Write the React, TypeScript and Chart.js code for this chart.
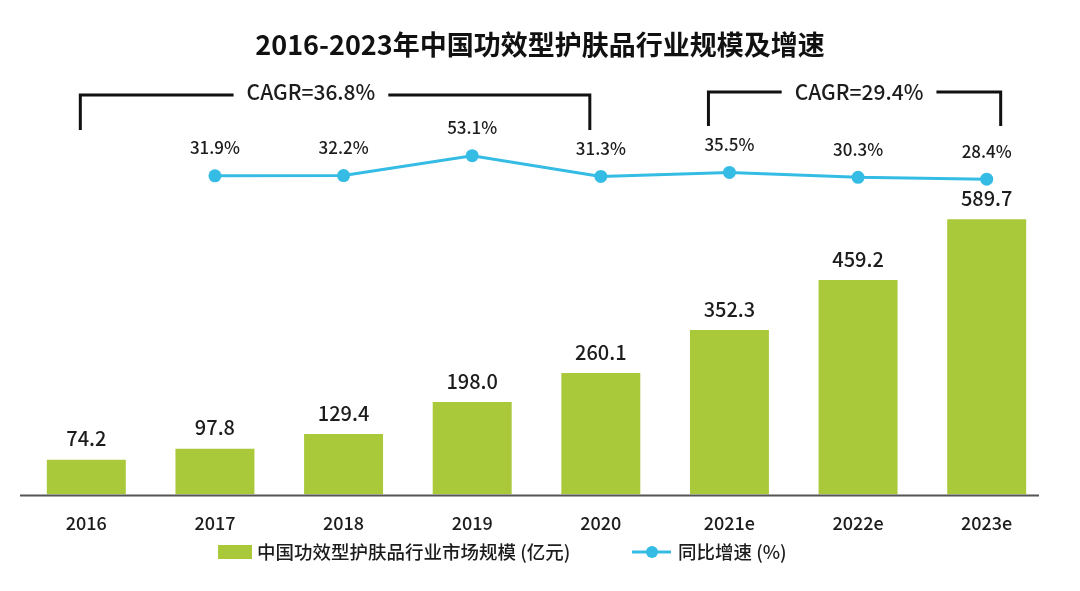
import React, { useEffect, useRef } from "react";
import { Chart, registerables } from "chart.js";

Chart.register(...registerables);

const categories = ["2016", "2017", "2018", "2019", "2020", "2021e", "2022e", "2023e"];
const marketSize = [74.2, 97.8, 129.4, 198.0, 260.1, 352.3, 459.2, 589.7];
const growthRate = [null, 31.9, 32.2, 53.1, 31.3, 35.5, 30.3, 28.4];
const titleText = "2016-2023年中国功效型护肤品行业规模及增速";
const barLabel = "中国功效型护肤品行业市场规模 (亿元)";
const lineLabel = "同比增速 (%)";
const cagrSpans = [
  { from: 0, to: 4, text: "CAGR=36.8%" },
  { from: 5, to: 7, text: "CAGR=29.4%" },
];

const FONT = '"Noto Sans CJK SC", "Noto Sans", sans-serif';
const GREEN = "#a9c93a";
const BLUE = "#35bce4";
const TEXT = "#1c1c1c";

const decorPlugin = {
  id: "decor",
  afterDatasetsDraw(chart: any) {
    const ctx = chart.ctx;
    const area = chart.chartArea;
    ctx.save();
    // axis line
    ctx.strokeStyle = "#555";
    ctx.lineWidth = 2;
    ctx.beginPath();
    ctx.moveTo(area.left - 2, area.bottom + 1);
    ctx.lineTo(area.right - 12, area.bottom + 1);
    ctx.stroke();

    // bar value labels
    ctx.fillStyle = TEXT;
    ctx.textAlign = "center";
    ctx.textBaseline = "middle";
    ctx.font = `500 20px ${FONT}`;
    const barMeta = chart.getDatasetMeta(0);
    barMeta.data.forEach((el: any, i: number) => {
      ctx.fillText(marketSize[i].toFixed(1), el.x, el.y - 21);
    });
    // line value labels
    ctx.font = `500 17px ${FONT}`;
    const lineMeta = chart.getDatasetMeta(1);
    lineMeta.data.forEach((el: any, i: number) => {
      const v = growthRate[i];
      if (v == null) return;
      ctx.fillText(v.toFixed(1) + "%", el.x, el.y - 28);
    });
    ctx.restore();
  },
  afterDraw(chart: any) {
    const ctx = chart.ctx;
    const x = chart.scales.x;
    const W = chart.width;
    ctx.save();
    // title
    ctx.fillStyle = "#111";
    ctx.textAlign = "center";
    ctx.textBaseline = "middle";
    ctx.font = `bold 27px ${FONT}`;
    ctx.fillText(titleText, W / 2, 45);

    // CAGR brackets
    const geo = [
      { l: x.getPixelForValue(0) - 6, r: x.getPixelForValue(4) - 11, top: 95, bot: 130, tc: x.getPixelForValue(1) + 96 },
      { l: x.getPixelForValue(5) - 21, r: x.getPixelForValue(7) + 14, top: 92, bot: 126, tc: x.getPixelForValue(6) + 1 },
    ];
    ctx.font = `500 21px ${FONT}`;
    ctx.strokeStyle = "#111";
    ctx.lineWidth = 3;
    cagrSpans.forEach((s, k) => {
      const g = geo[k];
      const tw = ctx.measureText(s.text).width;
      const gl = g.tc - tw / 2 - 13;
      const gr = g.tc + tw / 2 + 13;
      ctx.beginPath();
      ctx.moveTo(g.l, g.bot);
      ctx.lineTo(g.l, g.top);
      ctx.lineTo(gl, g.top);
      ctx.moveTo(gr, g.top);
      ctx.lineTo(g.r, g.top);
      ctx.lineTo(g.r, g.bot);
      ctx.stroke();
      ctx.fillStyle = TEXT;
      ctx.fillText(s.text, g.tc, 92);
    });

    // legend
    const ly = 552;
    ctx.font = `500 18.5px ${FONT}`;
    ctx.textAlign = "left";
    ctx.fillStyle = GREEN;
    ctx.fillRect(218, ly - 7, 34, 14);
    ctx.fillStyle = TEXT;
    ctx.fillText(barLabel, 257, ly);
    ctx.strokeStyle = BLUE;
    ctx.lineWidth = 3;
    ctx.beginPath();
    ctx.moveTo(632, ly);
    ctx.lineTo(671, ly);
    ctx.stroke();
    ctx.fillStyle = BLUE;
    ctx.beginPath();
    ctx.arc(652, ly, 6, 0, Math.PI * 2);
    ctx.fill();
    ctx.fillStyle = TEXT;
    ctx.fillText(lineLabel, 678, ly);
    ctx.restore();
  },
};

export default function App() {
  const ref = useRef<HTMLCanvasElement | null>(null);
  useEffect(() => {
    if (!ref.current) return;
    const chart = new Chart(ref.current, {
      type: "bar",
      data: {
        labels: categories,
        datasets: [
          {
            type: "bar",
            label: barLabel,
            data: marketSize,
            backgroundColor: GREEN,
            yAxisID: "y",
            categoryPercentage: 1,
            barPercentage: 0.614,
            order: 2,
          },
          {
            type: "line",
            label: lineLabel,
            data: growthRate as any,
            borderColor: BLUE,
            backgroundColor: BLUE,
            borderWidth: 3,
            pointRadius: 6.5,
            pointBackgroundColor: BLUE,
            pointBorderWidth: 0,
            yAxisID: "y1",
            spanGaps: false,
            order: 1,
            clip: false as any,
          },
        ],
      },
      options: {
        responsive: false,
        animation: false,
        layout: { padding: { top: 100, bottom: 47, left: 22, right: 29 } },
        plugins: {
          legend: { display: false },
          tooltip: { enabled: false },
          title: { display: false },
        },
        scales: {
          x: {
            grid: { display: false },
            border: { display: false },
            ticks: { color: TEXT, font: { family: FONT, size: 18, weight: 500 as any }, padding: 10 },
          },
          y: {
            display: false,
            min: 0,
            max: 845,
          },
          y1: {
            display: false,
            min: -303,
            max: 111.6,
          },
        },
      },
      plugins: [decorPlugin],
    });
    return () => chart.destroy();
  }, []);
  return (
    <div style={{ position: "fixed", left: 0, top: 0, width: 1080, height: 591, background: "#fff" }}>
      <canvas ref={ref} width={1080} height={591} style={{ width: 1080, height: 591 }} />
    </div>
  );
}
